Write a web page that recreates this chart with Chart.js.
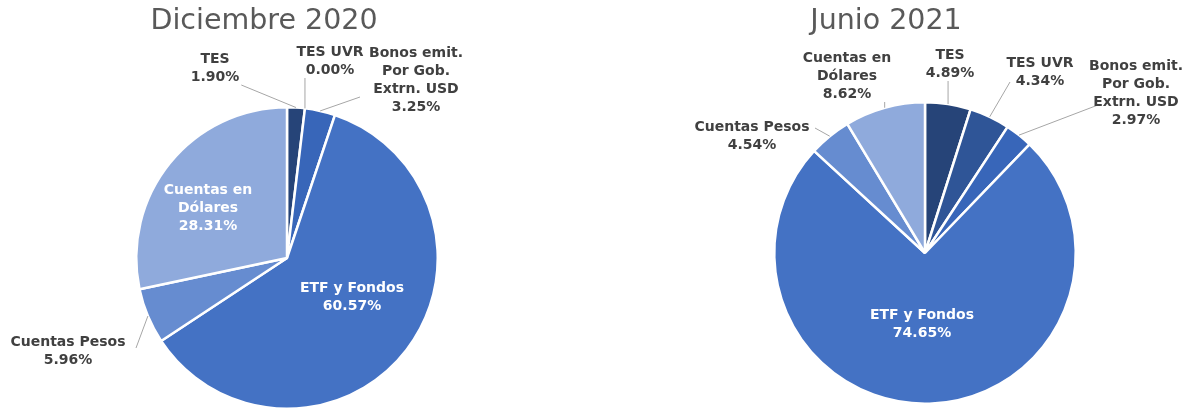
<!DOCTYPE html>
<html>
<head>
<meta charset="utf-8">
<script src="https://cdn.jsdelivr.net/npm/chart.js@4.4.1/dist/chart.umd.min.js"></script>
<style>
  html, body { margin: 0; padding: 0; background: #fff; }
  .caja { position: absolute; top: 0; width: 595px; height: 411px; }
  #cajaIzq { left: 0; }
  #cajaDer { left: 595px; }
</style>
</head>
<body>
<div class="caja" id="cajaIzq"><canvas id="graficoDic"></canvas></div>
<div class="caja" id="cajaDer"><canvas id="graficoJun"></canvas></div>
<script>
// Datos de los dos periodos
const categorias = ['TES', 'TES UVR', 'Bonos emit. Por Gob. Extrn. USD', 'ETF y Fondos', 'Cuentas Pesos', 'Cuentas en Dólares'];
const lineasCategoria = [['TES'], ['TES UVR'], ['Bonos emit.', 'Por Gob.', 'Extrn. USD'], ['ETF y Fondos'], ['Cuentas Pesos'], ['Cuentas en', 'Dólares']];
const valoresDic2020 = [1.90, 0.00, 3.25, 60.57, 5.96, 28.31];
const valoresJun2021 = [4.89, 4.34, 2.97, 74.65, 4.54, 8.62];
const colores = ['#264478', '#2f5597', '#3866b9', '#4472c4', '#668cd0', '#8faadc'];

// Posición de las etiquetas respecto al centro del pastel (dx, dy),
// y punto opcional donde arranca la línea guía respecto a la etiqueta (ax, ay)
const etiquetasDic = [
    { dx: -72, dy: -190 },
    { dx: 43, dy: -197 },
    { dx: 129, dy: -178, ax: -56, ay: 17 },
    { dx: 65, dy: 39, dentro: true },
    { dx: -219, dy: 93, ax: 68, ay: -3 },
    { dx: -79, dy: -50, dentro: true }
];
const etiquetasJun = [
    { dx: 25, dy: -189 },
    { dx: 115, dy: -181, ax: -30, ay: 10 },
    { dx: 211, dy: -160, ax: -38, ay: 12 },
    { dx: -3, dy: 71, dentro: true },
    { dx: -173, dy: -117, ax: 63, ay: -8 },
    { dx: -78, dy: -177 }
];

const FUENTE = '"DejaVu Sans", Verdana, sans-serif';
const ALTO_LINEA = 18;

// Plugin para dibujar título y etiquetas con líneas guía
const pluginEtiquetas = {
    id: 'etiquetas',
    afterDraw(chart, args, opts) {
        const ctx = chart.ctx;
        const meta = chart.getDatasetMeta(0);
        const valores = chart.data.datasets[0].data;
        ctx.save();
        // título
        ctx.font = '28.5px ' + FUENTE;
        ctx.fillStyle = '#595959';
        ctx.textAlign = 'center';
        ctx.textBaseline = 'alphabetic';
        ctx.fillText(opts.titulo, opts.tituloX, 29);

        ctx.font = 'bold 14px ' + FUENTE;
        ctx.textBaseline = 'middle';
        meta.data.forEach(function(arco, i) {
            const pos = opts.posiciones[i];
            const lineas = lineasCategoria[i].concat([valores[i].toFixed(2) + '%']);
            const cx = arco.x + pos.dx;
            const cy = arco.y + pos.dy;
            const alto = lineas.length * ALTO_LINEA;
            let ancho = 0;
            lineas.forEach(function(l) { ancho = Math.max(ancho, ctx.measureText(l).width); });

            if (!pos.dentro) {
                const ang = (arco.startAngle + arco.endAngle) / 2;
                const px = arco.x + arco.outerRadius * Math.cos(ang);
                const py = arco.y + arco.outerRadius * Math.sin(ang);
                let qx, qy;
                if (pos.ax !== undefined) {
                    qx = cx + pos.ax;
                    qy = cy + pos.ay;
                } else {
                    const x0 = cx - ancho / 2 - 2, x1 = cx + ancho / 2 + 2;
                    const y0 = cy - alto / 2 + 1, y1 = cy + alto / 2 - 1;
                    qx = Math.min(Math.max(px, x0), x1);
                    qy = Math.min(Math.max(py, y0), y1);
                }
                ctx.strokeStyle = '#a6a6a6';
                ctx.lineWidth = 1;
                ctx.beginPath();
                ctx.moveTo(qx, qy);
                ctx.lineTo(px, py);
                ctx.stroke();
            }

            ctx.fillStyle = pos.dentro ? '#ffffff' : '#404040';
            lineas.forEach(function(l, k) {
                ctx.fillText(l, cx, cy - alto / 2 + ALTO_LINEA / 2 + k * ALTO_LINEA);
            });
        });
        ctx.restore();
    }
};

function crearPastel(idCanvas, valores, titulo, tituloX, posiciones, relleno) {
    const ctx = document.getElementById(idCanvas).getContext('2d');
    return new Chart(ctx, {
        type: 'pie',
        data: {
            labels: categorias,
            datasets: [{
                data: valores,
                backgroundColor: colores,
                borderColor: '#ffffff',
                borderWidth: 2.5
            }]
        },
        options: {
            responsive: true,
            maintainAspectRatio: false,
            animation: false,
            layout: { padding: relleno },
            plugins: {
                legend: { display: false },
                tooltip: { enabled: false },
                title: { display: false },
                etiquetas: { titulo: titulo, tituloX: tituloX, posiciones: posiciones }
            }
        },
        plugins: [pluginEtiquetas]
    });
}

window.onload = function() {
    crearPastel('graficoDic', valoresDic2020, 'Diciembre 2020', 264, etiquetasDic,
        { left: 135, right: 156, top: 106, bottom: 1 });
    crearPastel('graficoJun', valoresJun2021, 'Junio 2021', 291, etiquetasJun,
        { left: 178, right: 113, top: 101, bottom: 6 });
};
</script>
</body>
</html>
